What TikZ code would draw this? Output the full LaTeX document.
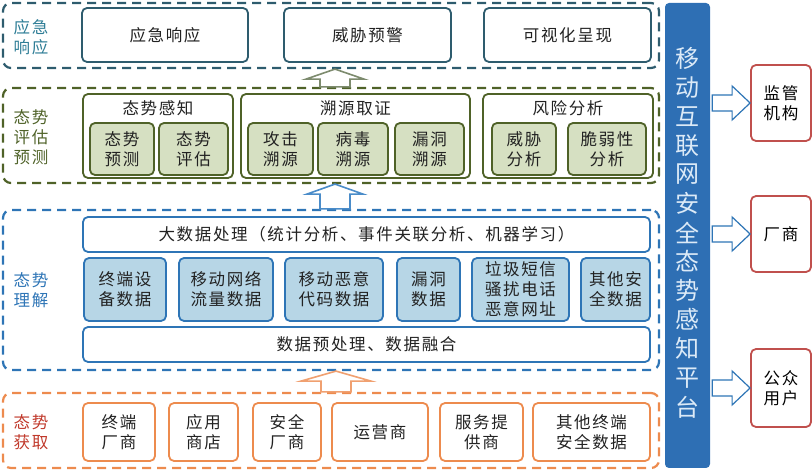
\documentclass[tikz,border=0pt]{standalone}
\usepackage{fontspec}
\newfontfamily\cjk[LetterSpace=10]{Noto Sans CJK SC}
\newfontfamily\cjkp{Noto Sans CJK SC}
\usetikzlibrary{calc}
\definecolor{tealC}{HTML}{2E5C6E}
\definecolor{tealL}{HTML}{2E7D96}
\definecolor{oliveC}{HTML}{4F6228}
\definecolor{greenF}{HTML}{D6E0C2}
\definecolor{blueC}{HTML}{2E75B6}
\definecolor{blueF}{HTML}{B7D6E6}
\definecolor{orangeC}{HTML}{ED8B4E}
\definecolor{redL}{HTML}{C0392B}
\definecolor{redC}{HTML}{C0504D}
\definecolor{barC}{HTML}{2E6FB4}
\definecolor{barT}{HTML}{DCEAF7}
\definecolor{txt}{HTML}{222222}
\definecolor{arrO}{HTML}{7D8B6E}
\definecolor{arrB}{HTML}{4A8CC9}
\definecolor{arrR}{HTML}{F0A070}

% hollow block arrows between layers and towards the users
\newcommand{\hollowup}[5]{%
  \path (#4,0 |- #2.north) coordinate (aT) (#4,0 |- #3.south) coordinate (aH);
  \draw[line width=1.6pt,draw=#1,fill=white] ($(aT)+(-15,0)$) -- ($(aH)+(-15,10)$) -- ($(aH)+(-#5,10)$) -- (aH)
    -- ($(aH)+(#5,10)$) -- ($(aH)+(15,10)$) -- ($(aT)+(15,0)$) -- cycle;}
\newcommand{\hollowright}[2]{%
  \path (#1.east |- #2.west) coordinate (aT) (#2.west) coordinate (aH);
  \draw[line width=1.2pt,draw=blueC,fill=white] ($(aT)+(2,-8)$) -- ($(aH)+(-18,-8)$) -- ($(aH)+(-18,-17)$) -- (aH)
    -- ($(aH)+(-18,17)$) -- ($(aH)+(-18,8)$) -- ($(aT)+(2,8)$) -- cycle;}

\begin{document}
\begin{tikzpicture}[x=1pt,y=-1pt,
  every node/.style={font=\cjk\fontsize{16.5}{20}\selectfont,align=center,inner sep=0pt,text=txt},
  layer/.style={draw=#1,line width=2.2pt,dash pattern=on 9pt off 6pt,rounded corners=8pt},
  cell/.style={draw=#1,line width=1.8pt,rounded corners=5pt,fill=white},
  sz/.style 2 args={minimum width=#1,minimum height=#2},
  platch/.style={font=\cjkp\fontsize{24}{24}\selectfont,text=barT}]
\useasboundingbox (0,0) rectangle (812,470);

% layers
\node[layer=tealC,sz={656}{65}] (fResp) at (331,35.5) {};
\node[layer=oliveC,sz={656}{95}] (fEval) at (331,135.5) {};
\node[layer=blueC,sz={656}{160}] (fUnd) at (331,290) {};
\node[layer=orangeC,sz={656}{75}] (fAcq) at (331,430.5) {};
\node[text=tealL] (lResp) at (31,37) {应急\\响应};
\node[text=oliveC] (lEval) at (31,137) {态势\\评估\\预测};
\node[text=blueC] (lUnd) at (31,290) {态势\\理解};
\node[text=redL] (lAcq) at (31,432) {态势\\获取};

% response
\node[cell=tealC,sz={166}{54}] (resp) at (165,35) {应急响应};
\node[cell=tealC,sz={167}{54}] (warn) at (367.5,35) {威胁预警};
\node[cell=tealC,sz={167}{54}] (vis) at (567.5,35) {可视化呈现};

% evaluation
\node[cell=oliveC,sz={150}{84}] (gSense) at (158,136) {};
\node[cell=oliveC,sz={229}{84}] (gTrace) at (355.5,136) {};
\node[cell=oliveC,sz={170}{84}] (gRisk) at (568,136) {};
\node (tSense) at (158,108) {态势感知};
\node (tTrace) at (355.5,108) {溯源取证};
\node (tRisk) at (568,108) {风险分析};
\node[cell=oliveC,fill=greenF,sz={64}{52}] (pred) at (122,149) {态势\\预测};
\node[cell=oliveC,fill=greenF,sz={69}{52}] (asse) at (193.5,149) {态势\\评估};
\node[cell=oliveC,fill=greenF,sz={65}{52}] (atk) at (280.5,149) {攻击\\溯源};
\node[cell=oliveC,fill=greenF,sz={70}{52}] (vir) at (353,149) {病毒\\溯源};
\node[cell=oliveC,fill=greenF,sz={69}{52}] (hole) at (429.5,149) {漏洞\\溯源};
\node[cell=oliveC,fill=greenF,sz={64}{52}] (thr) at (524,149) {威胁\\分析};
\node[cell=oliveC,fill=greenF,sz={78}{52}] (vul) at (607,149) {脆弱性\\分析};

% understanding
\node[cell=blueC,sz={567}{35}] (big) at (366.5,234.5) {大数据处理（统计分析、事件关联分析、机器学习）};
\node[cell=blueC,fill=blueF,sz={82}{63}] (dTerm) at (125,289.5) {终端设\\备数据};
\node[cell=blueC,fill=blueF,sz={94}{63}] (dFlow) at (226,289.5) {移动网络\\流量数据};
\node[cell=blueC,fill=blueF,sz={98}{63}] (dMal) at (334,289.5) {移动恶意\\代码数据};
\node[cell=blueC,fill=blueF,sz={63}{63}] (dHole) at (428.5,289.5) {漏洞\\数据};
\node[cell=blueC,fill=blueF,sz={97}{63}] (dSpam) at (520.5,289.5) {垃圾短信\\骚扰电话\\恶意网址};
\node[cell=blueC,fill=blueF,sz={69}{63}] (dOther) at (615.5,289.5) {其他安\\全数据};
\node[cell=blueC,sz={567}{35}] (pre) at (366.5,344.5) {数据预处理、数据融合};

% acquisition
\node[cell=orangeC,sz={72}{58}] (sTerm) at (119,432) {终端\\厂商};
\node[cell=orangeC,sz={69}{58}] (sApp) at (203.5,432) {应用\\商店};
\node[cell=orangeC,sz={68}{58}] (sSec) at (287,432) {安全\\厂商};
\node[cell=orangeC,sz={96}{58}] (sOp) at (380,432) {运营商};
\node[cell=orangeC,sz={83}{58}] (sSvc) at (481.5,432) {服务提\\供商};
\node[cell=orangeC,sz={117}{58}] (sOther) at (591.5,432) {其他终端\\安全数据};

% platform and users
\node[fill=barC,rounded corners=4pt,sz={45}{465}] (plat) at (687.5,235.5) {};
\foreach \ch [count=\i] in {移,动,互,联,网,安,全,态,势,感,知,平,台}
  \node[platch] (pc\i) at (687.5,{58+(\i-1)*29.08}) {\ch};
\node[cell=redC,sz={60}{76},text=black] (reg) at (781,103) {监管\\机构};
\node[cell=redC,sz={60}{76},text=black] (ven) at (781,234) {厂商};
\node[cell=redC,sz={60}{78},text=black] (pub) at (781,388) {公众\\用户};

\hollowup{arrO}{fEval}{fResp}{335}{29}
\hollowup{arrB}{fUnd}{fEval}{335}{28}
\hollowup{arrR}{fAcq}{fUnd}{336}{35}
\hollowright{plat}{reg}
\hollowright{plat}{ven}
\hollowright{plat}{pub}
\end{tikzpicture}
\end{document}
